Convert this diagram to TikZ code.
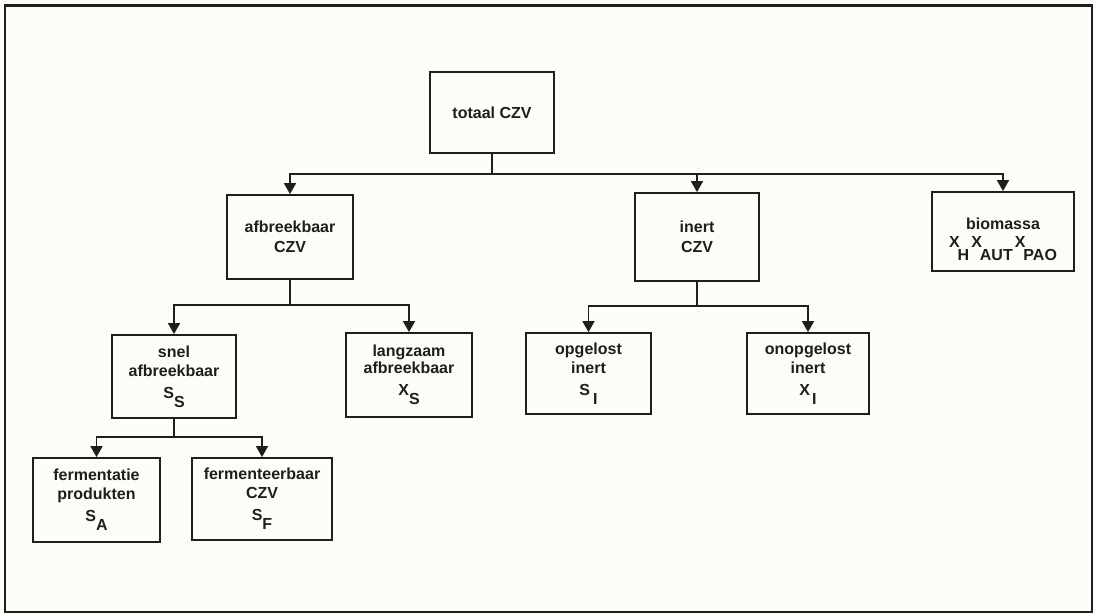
\documentclass[tikz,border=0pt]{standalone}
\usepackage{fontspec}
\setmainfont{Liberation Sans}
\usetikzlibrary{arrows.meta}
\definecolor{ink}{RGB}{30,30,30}
\definecolor{paper}{RGB}{253,253,248}
\newcommand{\lowsub}[1]{\raisebox{-9pt}{#1}}
\newcommand{\bsub}[1]{\kern-2pt\raisebox{-13pt}{#1}\kern2pt}
\begin{document}
\begin{tikzpicture}[x=1pt,y=-1pt,
  box/.style={draw=ink, line width=1.8pt, rectangle, align=center, inner sep=0pt,
    text=ink, font=\fontsize{16}{19}\selectfont\bfseries},
  link/.style={draw=ink, line width=1.7pt},
  arr/.style={draw=ink, line width=1.7pt, -{Triangle[width=12pt,length=11pt]}}]
\fill[paper] (0,0) rectangle (1096,614);
\useasboundingbox (0,0) rectangle (1096,614);
\draw[ink, line width=1.5pt] (5,5) rectangle (1092,612);
\draw[ink, line width=3pt] (5,5) -- (1092,5);

\node[box, minimum width=124pt, minimum height=81pt] (tot) at (492,112.5) {totaal CZV};
\node[box, minimum width=126pt, minimum height=84pt] (afb) at (290,237) {afbreekbaar\\[1pt]CZV};
\node[box, minimum width=124pt, minimum height=88pt] (inert) at (697,237) {inert\\[1pt]CZV};
\node[box, minimum width=142pt, minimum height=79pt] (bio) at (1003,231.5)
  {\rule{0pt}{28pt}biomassa\\[-1pt]X\bsub{H}X\bsub{AUT}X\kern-2pt\raisebox{-13pt}{PAO}};
\node[box, minimum width=124pt, minimum height=83pt] (snel) at (174,376.5)
  {snel\\afbreekbaar\\[3pt]S\lowsub{S}};
\node[box, minimum width=126pt, minimum height=84pt] (lang) at (409,375)
  {langzaam\\[-2pt]afbreekbaar\\[3pt]X\lowsub{S}};
\node[box, minimum width=125pt, minimum height=81pt] (opg) at (588.5,373.5)
  {opgelost\\inert\\[3pt]S\kern3pt\lowsub{I}};
\node[box, minimum width=122pt, minimum height=81pt] (onopg) at (808,373.5)
  {onopgelost\\inert\\[3pt]X\kern2pt\lowsub{I}};
\node[box, minimum width=127pt, minimum height=84pt] (ferm) at (96.5,500)
  {fermentatie\\produkten\\[3pt]S\lowsub{A}};
\node[box, minimum width=140pt, minimum height=82pt] (fermb) at (262,499)
  {fermenteerbaar\\CZV\\[3pt]S\lowsub{F}};

\coordinate (b1) at (tot.south |- 0,174);
\draw[link] (tot.south) -- (b1);
\draw[arr] (b1) -| (afb.north);
\draw[arr] (b1) -| (inert.north);
\draw[arr] (b1) -| (bio.north);

\coordinate (b2) at (afb.south |- 0,305);
\draw[link] (afb.south) -- (b2);
\draw[arr] (b2) -| (snel.north);
\draw[arr] (b2) -| (lang.north);

\coordinate (b3) at (inert.south |- 0,306);
\draw[link] (inert.south) -- (b3);
\draw[arr] (b3) -| (opg.north);
\draw[arr] (b3) -| (onopg.north);

\coordinate (b4) at (snel.south |- 0,437);
\draw[link] (snel.south) -- (b4);
\draw[arr] (b4) -| (ferm.north);
\draw[arr] (b4) -| (fermb.north);
\end{tikzpicture}
\end{document}
